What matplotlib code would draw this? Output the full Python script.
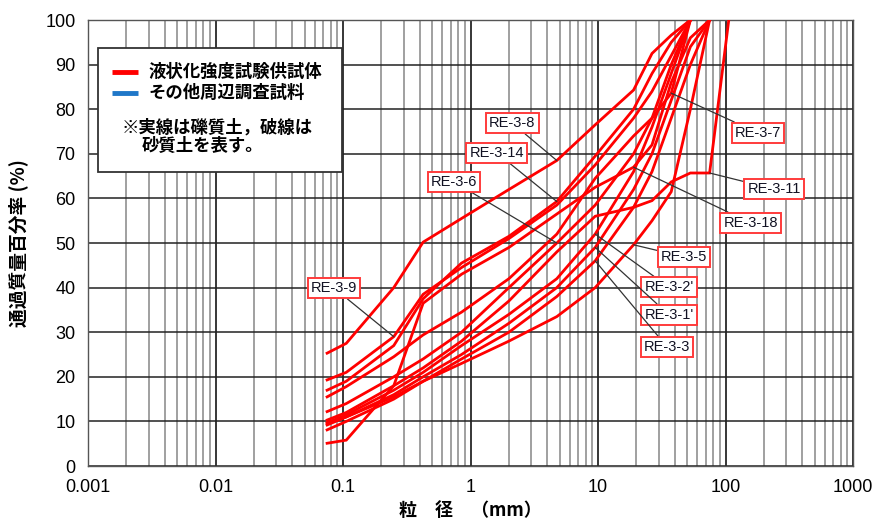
import numpy as np
import matplotlib.pyplot as plt
from matplotlib.ticker import LogLocator, FixedLocator, NullFormatter

plt.rcParams['font.family'] = ['Liberation Sans', 'Noto Sans CJK JP', 'DejaVu Sans']

# sieve sizes (mm)
sieve = [0.075, 0.106, 0.25, 0.425, 0.85, 2, 4.75, 9.5, 19, 26.5, 37.5, 53, 75, 106]

# passing percentage for each sample
re_3_8 = [25.3, 27.5, 40, 50.2, 55.5, 62, 68.5, 76.5, 84.3, 92.5, 96.6, 100]
re_3_9 = [19.3, 21, 29, 38.5, 44.5, 51, 58.5, 67.5, 78, 84, 92, 100]
re_3_14 = [17, 19, 27, 37.5, 45.5, 51.5, 59.3, 69.5, 80, 88, 95, 100]
re_3_7 = [15.5, 17.8, 24.5, 29.4, 34.5, 42, 52, 64.5, 74, 78, 83.6, 100]
re_3_6 = [12.2, 14, 20, 24, 30, 40, 50, 58.5, 70, 78, 90, 100]
re_3_18 = [5.1, 5.8, 18, 36.5, 43, 49, 56.5, 62.5, 67, 72, 86, 96, 100]
re_3_11 = [10.3, 12, 18, 22, 28, 37, 48, 56, 58, 59.5, 63.7, 65.7, 65.7, 100]
re_3_2 = [9.7, 11.5, 17, 21, 27, 34, 42, 52, 66, 76, 88, 100]
re_3_1 = [9.2, 11, 16, 20, 25, 32, 40, 49, 62, 70, 82, 94, 100]
re_3_3 = [8.1, 10, 15, 19, 24, 30, 38, 46, 58, 66, 78, 90, 100]
re_3_5 = [9.5, 11, 15.5, 19, 23, 28, 33.5, 40, 49.6, 55, 61.5, 80, 100]

samples = {
    'RE-3-8': re_3_8, 'RE-3-9': re_3_9, 'RE-3-14': re_3_14, 'RE-3-7': re_3_7,
    'RE-3-6': re_3_6, 'RE-3-18': re_3_18, 'RE-3-11': re_3_11,
    "RE-3-2'": re_3_2, "RE-3-1'": re_3_1, 'RE-3-3': re_3_3, 'RE-3-5': re_3_5,
}

# label box centre and the sieve index the leader points to
labels = [
    ('RE-3-8', (2.12, 76.9), 6),
    ('RE-3-14', (1.61, 70.2), 6),
    ('RE-3-6', (0.742, 63.7), 6),
    ('RE-3-9', (0.085, 39.9), 2),
    ('RE-3-7', (180, 74.7), 10),
    ('RE-3-11', (240, 62.1), 12),
    ('RE-3-18', (158, 54.5), 8),
    ('RE-3-5', (47.3, 46.9), 8),
    ("RE-3-2'", (36, 40.1), 7),
    ("RE-3-1'", (36, 33.9), 7),
    ('RE-3-3', (34.8, 26.7), 7),
]

fig = plt.figure(figsize=(8.75, 5.31), dpi=100)
ax = fig.add_axes([0.1006, 0.1224, 0.8743, 0.8399])

for name, vals in samples.items():
    ax.plot(sieve[:len(vals)], vals, color='#ff0000', lw=2.0, zorder=3,
            solid_joinstyle='miter')

ax.set_xscale('log')
ax.set_xlim(0.001, 1000)
ax.set_ylim(0, 100)
ax.set_yticks(np.arange(0, 101, 10))
ax.xaxis.set_major_locator(FixedLocator([0.001, 0.01, 0.1, 1, 10, 100, 1000]))
ax.xaxis.set_minor_locator(LogLocator(base=10, subs=np.arange(2, 10)))
ax.xaxis.set_minor_formatter(NullFormatter())
ax.set_xticklabels(['0.001', '0.01', '0.1', '1', '10', '100', '1000'])

ax.grid(which='major', axis='x', color='black', lw=1.1, zorder=1)
ax.grid(which='minor', axis='x', color='#999999', lw=1.3, zorder=1)
ax.grid(which='major', axis='y', color='#222222', lw=1.1, zorder=1)
ax.tick_params(which='both', length=0, labelsize=13, pad=9)
for s in ax.spines.values():
    s.set_color('#555555')
    s.set_linewidth(1.0)

jp = ['Noto Sans CJK JP']
ax.set_xlabel('粒　径　（mm）', fontsize=13, fontweight='bold', family=jp,
              labelpad=4)
ax.set_ylabel('通過質量百分率 (%)', fontsize=13.5, fontweight='bold',
              family=jp, labelpad=12)

for name, (lx, ly), k in labels:
    vals = samples[name]
    ax.annotate(name, xy=(sieve[k], vals[k]), xytext=(lx, ly),
                textcoords='data', fontsize=10.5, color='#111122',
                ha='center', va='center', zorder=5,
                bbox=dict(boxstyle='square,pad=0.22', fc='white',
                          ec='#ff3b3b', lw=1.4),
                arrowprops=dict(arrowstyle='-', color='#333333', lw=0.9,
                                shrinkA=0, shrinkB=0))

# legend box
ax.add_patch(plt.Rectangle((0.001205, 66.0), 0.0977 - 0.001205, 27.65,
                           fc='white', ec='#333333', lw=1.3, zorder=4))
ax.plot([0.00154, 0.00247], [88.3, 88.3], color='#ff0000', lw=3.5, zorder=5,
        solid_capstyle='butt')
ax.plot([0.00154, 0.00247], [83.6, 83.6], color='#1f77c8', lw=3.5, zorder=5,
        solid_capstyle='butt')
ax.text(0.00296, 88.3, '液状化強度試験供試体', fontsize=12.5, fontweight='bold',
        family=jp, va='center', zorder=5)
ax.text(0.00296, 83.6, 'その他周辺調査試料', fontsize=12.5, fontweight='bold',
        family=jp, va='center', zorder=5)
ax.text(0.00185, 76.0, '※実線は礫質土，破線は', fontsize=12.5, fontweight='bold',
        family=jp, va='center', zorder=5)
ax.text(0.00265, 71.7, '砂質土を表す。', fontsize=12.5, fontweight='bold',
        family=jp, va='center', zorder=5)

fig.savefig('out.png', dpi=100)
